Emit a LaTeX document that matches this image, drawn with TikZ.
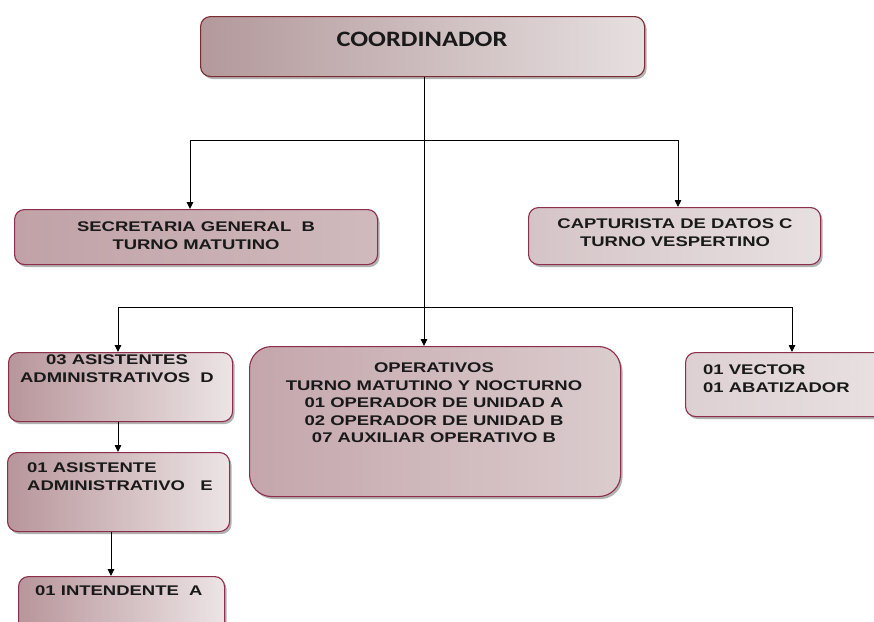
\documentclass[tikz,border=0pt]{standalone}
\usepackage{fontspec}
\newfontfamily\lab[FakeStretch=1.32]{Liberation Sans}
\newfontfamily\hed[FakeStretch=1.2]{Carlito}
\usetikzlibrary{arrows.meta,shadows,calc}
\definecolor{bord}{HTML}{8C2F4A}
\definecolor{bordtop}{HTML}{7B2C33}
\definecolor{mauveA}{HTML}{B3999B}
\definecolor{mauveB}{HTML}{E6DFE0}
\definecolor{secA}{HTML}{C0A2A7}
\definecolor{secB}{HTML}{D0BABD}
\definecolor{capA}{HTML}{D5C4C7}
\definecolor{capB}{HTML}{E7E0E1}
\definecolor{asA}{HTML}{B8969B}
\definecolor{asB}{HTML}{ECE4E5}
\definecolor{opA}{HTML}{C4A6AC}
\definecolor{opB}{HTML}{DBCCCE}
\definecolor{vecA}{HTML}{DDD0D3}
\definecolor{vecB}{HTML}{E9E2E3}
\begin{document}
\begin{tikzpicture}[x=1pt,y=-1pt,
  box/.style={draw=bord, line width=1.1pt, rounded corners=10pt, inner sep=0pt, anchor=north west,
    drop shadow={shadow xshift=2pt, shadow yshift=-2.5pt, opacity=0.3, fill=black}},
  lbl/.style={font=\fontsize{14}{17.5}\selectfont\lab\bfseries, inner sep=0pt, text=black!90},
  arr/.style={-{Triangle[length=7pt,width=6.5pt]}, line width=0.9pt},
  ln/.style={line width=0.9pt}]
\useasboundingbox (0,0) rectangle (874,621);
\fill[white] (0,0) rectangle (874,621);

% boxes
\node[box, draw=bordtop, minimum width=444pt, minimum height=60pt, left color=mauveA, right color=mauveB] (coord) at (200,16) {};
\node[box, minimum width=363pt, minimum height=55pt, left color=secA, right color=secB] (sec) at (14,209) {};
\node[box, minimum width=292pt, minimum height=57pt, left color=capA, right color=capB] (cap) at (528,207) {};
\node[box, minimum width=224pt, minimum height=69pt, left color=asA, right color=asB] (asD) at (8,352) {};
\node[box, minimum width=222pt, minimum height=79pt, left color=asA, right color=asB] (asE) at (7,452) {};
\node[box, minimum width=206pt, minimum height=70pt, left color=asA, right color=asB] (intA) at (18,576) {};
\node[box, rounded corners=22pt, minimum width=371pt, minimum height=150pt, left color=opA, right color=opB] (oper) at (249,346) {};
\node[box, minimum width=220pt, minimum height=64pt, left color=vecA, right color=vecB] (vec) at (685,352) {};

% texts
\node[inner sep=0pt, anchor=north, font=\fontsize{22}{26}\selectfont\hed\bfseries, text=black!90] (tcoord) at (422,32) {COORDINADOR};
\node[lbl, anchor=north, align=center] (tsec) at (196,222) {SECRETARIA GENERAL\ \ B\\TURNO MATUTINO};
\node[lbl, anchor=north, align=center] (tcap) at (675,219) {CAPTURISTA DE DATOS C\\TURNO VESPERTINO};
\node[lbl, anchor=north, align=center] (tasD) at (117,355) {03 ASISTENTES\\ADMINISTRATIVOS\ \ D};
\node[lbl, anchor=north west, align=left] (tasE) at (27,463) {01 ASISTENTE\\ADMINISTRATIVO\ \ \ E};
\node[lbl, anchor=north west, align=left] (tint) at (35,586) {01 INTENDENTE\ \ A};
\node[lbl, anchor=north, align=center] (toper) at (434,363) {OPERATIVOS\\TURNO MATUTINO Y NOCTURNO\\01 OPERADOR DE UNIDAD A\\02 OPERADOR DE UNIDAD B\\07 AUXILIAR OPERATIVO B};
\node[lbl, anchor=north west, align=left] (tvec) at (703,365) {01 VECTOR\\01 ABATIZADOR};

% junction coordinates
\coordinate (mx) at (424,0);
\coordinate (h1) at (0,140);
\coordinate (h2) at (0,307);
\coordinate (sx) at (190,0);
\coordinate (cx) at (678,0);
\coordinate (ax) at (118,0);
\coordinate (vx) at (792,0);
\coordinate (ex) at (111,0);

% connectors
\draw[arr] (coord.south -| mx) -- (oper.north -| mx);
\draw[ln] (h1 -| sx) -- (h1 -| cx);
\draw[arr] (h1 -| sx) -- (sec.north -| sx);
\draw[arr] (h1 -| cx) -- (cap.north -| cx);
\draw[ln] (h2 -| ax) -- (h2 -| vx);
\draw[arr] (h2 -| ax) -- (asD.north -| ax);
\draw[arr] (h2 -| vx) -- (vec.north -| vx);
\draw[arr] (asD.south -| ax) -- (asE.north -| ax);
\draw[arr] (asE.south -| ex) -- (intA.north -| ex);
\end{tikzpicture}
\end{document}
